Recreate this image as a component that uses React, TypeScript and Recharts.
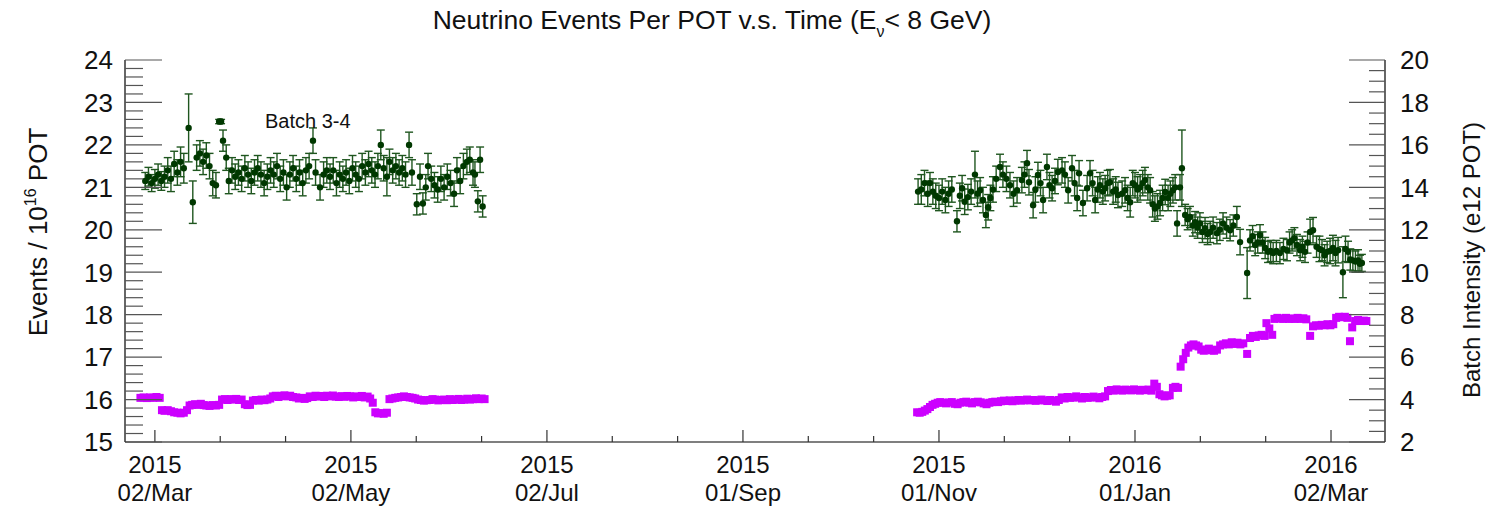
import React from "react";
import { ComposedChart, Scatter, ErrorBar, XAxis, YAxis } from "recharts";

const FONT = "'Liberation Sans', Arial, Helvetica, sans-serif";

// x values are days counted from 2015-03-02
const xMajorDays = [0, 61, 122, 183, 244, 305, 366];
const xYearLabels = ["2015", "2015", "2015", "2015", "2015", "2016", "2016"];
const xDayLabels = ["02/Mar", "02/May", "02/Jul", "01/Sep", "01/Nov", "01/Jan", "02/Mar"];
const xDomain: [number, number] = [-9.3, 382.8];

const leftMajor = [15, 16, 17, 18, 19, 20, 21, 22, 23, 24];
const rightMajor = [2, 4, 6, 8, 10, 12, 14, 16, 18, 20];

// [day, events / 1e16 POT, error]
const greenSpring: [number, number, number][] = [
  [-3, 21.15, 0.2], [-2, 21.25, 0.22], [-1, 21.1, 0.2], [0, 21.2, 0.22], [1, 21.3, 0.25],
  [2, 21.15, 0.22], [3, 21.25, 0.25], [4, 21.4, 0.3], [5, 21.2, 0.3], [6, 21.55, 0.3],
  [7, 21.35, 0.3], [8, 21.6, 0.35], [9, 21.45, 0.35], [10.5, 22.4, 0.8], [11.8, 20.65, 0.5],
  [13, 21.7, 0.3], [14, 21.8, 0.3], [15, 21.6, 0.3], [16, 21.75, 0.3], [17, 21.5, 0.3],
  [18, 21.1, 0.3], [19, 21.05, 0.3], [20, 22.55, 0.05], [20.6, 22.55, 0.05], [21.2, 22.1, 0.25],
  [22.2, 21.7, 0.3], [23, 21.15, 0.3], [24, 21.4, 0.3], [25, 21.25, 0.3], [26, 21.35, 0.3],
  [27, 21.2, 0.3], [28, 21.45, 0.3], [29, 21.3, 0.3], [30, 21.15, 0.3], [31, 21.35, 0.3],
  [32, 21.45, 0.3], [33, 21.3, 0.3], [34, 21.1, 0.3], [35, 21.25, 0.3], [36, 21.4, 0.3],
  [37, 21.3, 0.3], [38, 21.5, 0.3], [39, 21.2, 0.3], [40, 21.35, 0.3], [41, 21.0, 0.3],
  [42, 21.3, 0.3], [43, 21.45, 0.3], [44, 21.2, 0.3], [45, 21.35, 0.3], [46, 21.1, 0.3],
  [47, 21.4, 0.3], [48, 21.5, 0.3], [49.2, 22.1, 0.3], [50, 21.35, 0.3], [51.4, 21.0, 0.3],
  [52.5, 21.3, 0.3], [53.5, 21.4, 0.3], [54.5, 21.25, 0.3], [55.5, 21.4, 0.3], [56.5, 21.1, 0.3],
  [57.5, 21.3, 0.3], [58.5, 21.2, 0.3], [59.5, 21.35, 0.3], [60.5, 21.15, 0.3], [61.5, 21.45, 0.3],
  [62.5, 21.3, 0.3], [63.5, 21.2, 0.3], [64.5, 21.5, 0.3], [65.5, 21.35, 0.3], [66.5, 21.55, 0.3],
  [67.5, 21.4, 0.3], [68.5, 21.3, 0.3], [69.4, 21.5, 0.3], [70.3, 22.0, 0.35], [71.2, 21.45, 0.3],
  [72.2, 21.25, 0.45], [73, 21.6, 0.3], [74, 21.4, 0.3], [75, 21.5, 0.3], [76, 21.35, 0.3],
  [77, 21.45, 0.3], [78, 21.3, 0.3], [79.1, 22.0, 0.3], [80, 21.35, 0.3], [81.5, 20.6, 0.25],
  [82.5, 21.25, 0.3], [83.4, 20.62, 0.25], [84.3, 21.0, 0.3], [85, 21.5, 0.3], [86, 21.2, 0.3],
  [87, 21.05, 0.3], [88, 20.95, 0.3], [89, 21.2, 0.3], [90, 21.0, 0.3], [91, 21.25, 0.3],
  [92, 21.1, 0.3], [93.1, 20.85, 0.3], [94, 21.4, 0.3], [95, 21.15, 0.3], [96, 21.5, 0.3],
  [97.1, 21.6, 0.3], [98, 21.65, 0.3], [99, 21.35, 0.3], [99.6, 21.3, 0.3], [100.5, 20.67, 0.25],
  [101.2, 21.65, 0.3], [102, 20.55, 0.25],
];

const greenWinter: [number, number, number][] = [
  [237.5, 20.9, 0.3], [238.5, 20.95, 0.35], [239.5, 21.1, 0.3], [240.5, 20.85, 0.3], [241.2, 21.1, 0.25],
  [242.1, 20.9, 0.3], [243, 20.8, 0.3], [244, 20.75, 0.3], [245, 20.9, 0.3], [246, 20.7, 0.3],
  [247, 20.85, 0.3], [248, 20.95, 0.3], [249.6, 20.2, 0.25], [250.5, 20.8, 0.3], [251.2, 20.98, 0.3],
  [252, 20.66, 0.3], [253, 20.77, 0.3], [254, 20.9, 0.3], [255.2, 21.3, 0.55], [256, 20.85, 0.3],
  [256.8, 20.93, 0.3], [257.7, 20.7, 0.3], [258.6, 20.35, 0.3], [259.3, 20.53, 0.3], [260, 20.75, 0.3],
  [260.8, 20.95, 0.3], [261.8, 21.2, 0.3], [263, 21.48, 0.3], [263.9, 21.3, 0.3], [265, 21.2, 0.3],
  [266.1, 21.05, 0.3], [267.2, 20.85, 0.3], [268.3, 20.93, 0.3], [269.8, 21.17, 0.3], [270.6, 21.3, 0.3],
  [271.4, 21.57, 0.3], [272, 21.12, 0.3], [273.3, 20.58, 0.3], [274, 20.95, 0.3], [274.8, 21.29, 0.3],
  [275.6, 21.1, 0.3], [276.4, 20.7, 0.3], [277.6, 21.48, 0.3], [278.4, 21.05, 0.3], [279.2, 20.98, 0.3],
  [280.1, 21.15, 0.3], [281, 21.36, 0.3], [282.3, 21.4, 0.3], [283.2, 21.3, 0.3], [284.2, 20.93, 0.3],
  [285.4, 21.45, 0.3], [286.2, 21.1, 0.3], [287, 20.75, 0.3], [287.6, 21.33, 0.3], [288.8, 20.63, 0.3],
  [290.1, 20.98, 0.3], [291, 21.33, 0.3], [291.8, 21.1, 0.3], [292.6, 20.7, 0.3], [293.4, 20.95, 0.3],
  [294.1, 21.05, 0.3], [295, 20.9, 0.3], [295.7, 20.98, 0.3], [296.5, 21.1, 0.3], [297.2, 21.12, 0.3],
  [298.2, 20.9, 0.3], [299, 20.95, 0.3], [299.7, 20.82, 0.3], [301, 20.85, 0.3], [301.9, 20.93, 0.3],
  [302.7, 20.75, 0.3], [303.5, 20.65, 0.35], [304.3, 21.1, 0.3], [305, 21.05, 0.3], [305.8, 20.95, 0.3],
  [306.6, 21.0, 0.3], [307.4, 21.1, 0.3], [308.1, 21.17, 0.3], [309, 21.0, 0.3], [309.7, 20.93, 0.3],
  [310.5, 20.6, 0.3], [311.2, 20.5, 0.3], [312, 20.55, 0.3], [312.8, 20.63, 0.3], [313.6, 20.75, 0.3],
  [314.4, 20.89, 0.3], [315.3, 20.75, 0.3], [316, 20.85, 0.3], [316.8, 20.93, 0.3], [317.5, 21.0, 0.3],
  [318.1, 20.15, 0.3], [319, 21.0, 0.3], [319.6, 21.45, 0.9], [320.6, 20.35, 0.25], [321.4, 20.25, 0.25],
  [322.1, 20.3, 0.25], [323, 20.1, 0.25], [323.7, 20.18, 0.25], [324.5, 20.05, 0.25], [325.2, 20.15, 0.25],
  [326, 19.95, 0.25], [326.8, 20.04, 0.25], [327.6, 19.9, 0.25], [328.4, 19.95, 0.25], [329.3, 20.05, 0.25],
  [330.5, 19.92, 0.25], [331.4, 20.0, 0.25], [332.4, 20.15, 0.25], [333.5, 20.05, 0.25], [334.6, 19.99, 0.25],
  [335.6, 20.1, 0.25], [336.7, 20.3, 0.25], [337.7, 19.71, 0.3], [339.9, 18.98, 0.6], [340.8, 19.75, 0.25],
  [341.6, 19.85, 0.25], [342.4, 19.64, 0.25], [343.2, 19.7, 0.25], [343.9, 19.87, 0.25], [344.7, 19.7, 0.25],
  [345.5, 19.57, 0.25], [346.4, 19.48, 0.25], [347.2, 19.5, 0.25], [348, 19.45, 0.25], [349, 19.5, 0.25],
  [350.1, 19.45, 0.25], [351.2, 19.55, 0.25], [352.3, 19.52, 0.25], [353.1, 19.7, 0.25], [353.9, 19.75, 0.25],
  [354.6, 19.8, 0.25], [355.4, 19.64, 0.25], [356.4, 19.52, 0.25], [357.1, 19.6, 0.25], [357.9, 19.48, 0.25],
  [358.7, 19.7, 0.25], [359.5, 19.95, 0.3], [360.4, 19.99, 0.3], [361.5, 19.6, 0.25], [362.4, 19.55, 0.3],
  [363.2, 19.52, 0.25], [364, 19.4, 0.25], [364.8, 19.48, 0.25], [365.7, 19.5, 0.3], [366.6, 19.57, 0.3],
  [367.4, 19.45, 0.3], [368.2, 19.52, 0.3], [369.7, 19.0, 0.6], [370.5, 19.55, 0.3], [371.3, 19.48, 0.25],
  [372, 19.3, 0.25], [372.8, 19.28, 0.25], [373.6, 19.25, 0.25], [374.4, 19.28, 0.25], [375, 19.2, 0.2],
  [375.6, 19.22, 0.2],
];

// [day, batch intensity e12 POT]
const purpleSpring: [number, number][] = [
  [-4.5, 4.08], [-3.5, 4.1], [-2.5, 4.07], [-1.5, 4.1], [-0.5, 4.08], [0.5, 4.12], [1.5, 4.08],
  [2.2, 3.5], [3, 3.47], [4, 3.5], [5, 3.45], [6, 3.4], [7, 3.38], [8, 3.35], [9, 3.38], [10, 3.5],
  [10.8, 3.72], [11.6, 3.75], [12.5, 3.78], [13.4, 3.75], [14.3, 3.8], [15.2, 3.74], [16, 3.72],
  [17, 3.7], [18, 3.74], [19, 3.72], [20, 3.75],
  [20.9, 4.0], [21.8, 4.02], [22.6, 3.98], [23.5, 4.02], [24.4, 4.0], [25.3, 4.03], [26.2, 3.98], [27, 4.0],
  [28, 3.78], [28.8, 3.74], [29.6, 3.75],
  [30.5, 3.95], [31.4, 3.98], [32.3, 3.95], [33.2, 4.0], [34.1, 3.97], [35, 4.0], [35.9, 4.05],
  [36.7, 4.15], [37.6, 4.18], [38.5, 4.12], [39.4, 4.17], [40.3, 4.2], [41.2, 4.15], [42.1, 4.18],
  [43, 4.12], [44, 4.1],
  [44.8, 4.05], [45.7, 4.08], [46.6, 4.03], [47.4, 4.07],
  [48.2, 4.15], [49.1, 4.12], [50, 4.18], [50.9, 4.14], [51.8, 4.17], [52.7, 4.12], [53.6, 4.18],
  [54.5, 4.15], [55.4, 4.19], [56.3, 4.14], [57.2, 4.12], [58.1, 4.16], [59, 4.13], [59.9, 4.17],
  [60.8, 4.15], [61.7, 4.1], [62.6, 4.15], [63.5, 4.12], [64.4, 4.17], [65.3, 4.1], [66.2, 4.14], [67, 4.05],
  [67.8, 3.85], [68.6, 3.4], [69.4, 3.35], [70.3, 3.36], [71.2, 3.33], [72.2, 3.38],
  [73, 4.02], [73.9, 4.05], [74.8, 4.08], [75.7, 4.1], [76.6, 4.12], [77.5, 4.15], [78.4, 4.12],
  [79.3, 4.1], [80.2, 4.08],
  [81, 4.05], [81.9, 4.0], [82.8, 3.98], [83.7, 3.95], [84.6, 3.97], [85.5, 3.98], [86.4, 4.02],
  [87.3, 4.0], [88.2, 3.96], [89.1, 3.98], [90, 4.0], [90.9, 3.97], [91.8, 4.02], [92.7, 3.98],
  [93.6, 4.0], [94.5, 4.03], [95.4, 3.98], [96.3, 4.0], [97.2, 4.04], [98.1, 4.0], [99, 4.02],
  [99.9, 4.06], [100.8, 4.02], [101.7, 4.05], [102.6, 4.02],
];

const purpleWinter: [number, number][] = [
  [237.2, 3.4], [238, 3.38], [238.8, 3.42], [239.6, 3.48], [240.4, 3.55], [241.2, 3.65], [242, 3.75],
  [242.8, 3.8], [243.6, 3.85], [244.4, 3.88], [245.3, 3.85], [246.2, 3.82], [247.1, 3.86], [248, 3.88],
  [248.9, 3.8], [249.8, 3.78], [250.7, 3.85], [251.6, 3.88], [252.5, 3.9], [253.4, 3.85], [254.3, 3.82],
  [255.2, 3.88], [256.1, 3.9], [257, 3.87], [257.9, 3.82], [258.8, 3.78], [259.7, 3.85], [260.6, 3.88],
  [261.5, 3.9], [262.4, 3.88],
  [263.3, 3.92], [264.2, 3.95], [265.1, 3.93], [266, 3.96], [266.9, 3.92], [267.8, 3.95], [268.7, 3.98],
  [269.6, 3.95], [270.5, 3.97], [271.4, 4.0], [272.3, 3.96], [273.2, 3.98], [274.1, 3.94], [275, 3.97],
  [275.9, 4.0], [276.8, 3.96], [277.7, 3.93], [278.6, 3.98], [279.5, 3.95], [280.4, 3.9], [281.3, 3.98],
  [282.2, 4.1], [283.1, 4.05], [284, 4.12], [284.9, 4.08], [285.8, 4.1], [286.7, 4.15], [287.6, 4.1],
  [288.5, 4.05], [289.4, 4.12], [290.3, 4.08], [291.2, 4.1], [292.1, 4.14], [293, 4.1], [293.9, 4.06],
  [294.8, 4.12], [295.7, 4.15],
  [296.6, 4.4], [297.5, 4.45], [298.4, 4.42], [299.3, 4.48], [300.2, 4.45], [301.1, 4.42], [302, 4.47],
  [302.9, 4.45], [303.8, 4.43], [304.7, 4.48], [305.6, 4.45], [306.5, 4.42], [307.4, 4.46], [308.3, 4.44],
  [309.2, 4.47], [310.1, 4.42],
  [311, 4.75], [311.8, 4.6], [312.6, 4.25], [313.4, 4.2], [314.2, 4.15], [315, 4.18], [315.8, 4.2],
  [316.8, 4.55], [317.6, 4.6], [318.4, 4.55],
  [319.2, 5.55], [320, 5.9], [320.8, 6.2], [321.6, 6.45], [322.4, 6.55], [323.2, 6.6], [324, 6.55],
  [324.8, 6.5], [325.6, 6.35], [326.4, 6.3], [327.2, 6.35], [328, 6.4], [328.8, 6.32], [329.6, 6.3],
  [330.5, 6.35], [331.5, 6.55], [332.4, 6.6], [333.3, 6.65], [334.2, 6.6], [335.1, 6.7], [336, 6.62],
  [336.9, 6.68], [337.8, 6.6], [338.7, 6.65],
  [339.9, 6.15], [340.8, 6.9], [341.7, 7.0], [342.6, 6.95], [343.5, 7.02], [344.4, 7.05], [345.3, 7.0],
  [345.9, 7.6], [346.8, 7.35], [347.7, 7.05],
  [348.4, 7.8], [349.3, 7.85], [350.2, 7.82], [351.1, 7.8], [352, 7.85], [352.9, 7.8], [353.8, 7.82],
  [354.7, 7.8], [355.6, 7.85], [356.5, 7.8], [357.4, 7.83], [358.3, 7.78],
  [359.5, 7.0], [360.4, 7.45], [361.3, 7.5], [362.2, 7.48], [363.1, 7.52], [364, 7.5], [364.9, 7.55],
  [365.8, 7.5], [366.7, 7.55],
  [367.6, 7.85], [368.5, 7.9], [369.4, 7.88], [370.3, 7.9], [371.1, 7.85],
  [371.9, 6.75], [372.6, 7.4], [373.5, 7.7], [374.4, 7.75], [375.3, 7.7], [376.2, 7.72], [377, 7.7],
];

const toPoints = (rows: [number, number, number][]) => rows.map(([x, y, err]) => ({ x, y, err }));
const toSquares = (rows: [number, number][]) => rows.map(([x, y]) => ({ x, y }));

// tick positions (major + minor)
const step = (a: number, b: number, d: number) => {
  const out: number[] = [];
  for (let v = a; v <= b + 1e-9; v += d) out.push(Math.round(v * 1000) / 1000);
  return out;
};
const leftTicks = step(15, 24, 0.2);
const rightTicks = step(2, 20, 0.5);
const xTicks = step(0, 366, 61 / 3).filter((d) => d >= xDomain[0] && d <= xDomain[1]);

const isMajor = (v: number, list: number[]) => list.some((m) => Math.abs(m - v) < 1e-3);

const LeftTick = (p: any) => {
  const ax = p.x + 12;
  const v = p.payload.value;
  const major = isMajor(v, leftMajor);
  return (
    <g>
      <line x1={ax} x2={ax + (major ? 37 : 18)} y1={p.y} y2={p.y} stroke="#555" strokeWidth={1.2} />
      {major && (
        <text x={p.x} y={p.y} dy="0.36em" textAnchor="end" fontSize={26} fontFamily={FONT} fill="#111">
          {v}
        </text>
      )}
    </g>
  );
};

const RightTick = (p: any) => {
  const ax = p.x - 15;
  const v = p.payload.value;
  const major = isMajor(v, rightMajor);
  return (
    <g>
      <line x1={ax} x2={ax - (major ? 36 : 16)} y1={p.y} y2={p.y} stroke="#555" strokeWidth={1.2} />
      {major && (
        <text x={p.x} y={p.y} dy="0.36em" textAnchor="start" fontSize={26} fontFamily={FONT} fill="#111">
          {v}
        </text>
      )}
    </g>
  );
};

const BottomTick = (p: any) => {
  const ay = p.y;
  const v = p.payload.value;
  const idx = xMajorDays.findIndex((m) => Math.abs(m - v) < 1e-3);
  const major = idx >= 0;
  return (
    <g>
      <line x1={p.x} x2={p.x} y1={ay} y2={ay - (major ? 12 : 6)} stroke="#333" strokeWidth={1.2} />
      {major && (
        <text x={p.x} y={ay + 31} textAnchor="middle" fontSize={24} fontFamily={FONT} fill="#111">
          {xYearLabels[idx]}
        </text>
      )}
      {major && (
        <text x={p.x} y={ay + 59} textAnchor="middle" fontSize={24} fontFamily={FONT} fill="#111">
          {xDayLabels[idx]}
        </text>
      )}
    </g>
  );
};

const GreenDot = (p: any) => <circle cx={p.cx} cy={p.cy} r={3.2} fill="#003800" />;
const PurpleSquare = (p: any) => (
  <rect x={p.cx - 4} y={p.cy - 4} width={8} height={8} fill="#cc00ff" />
);

export default function App() {
  return (
    <div style={{ position: "absolute", left: 0, top: 0, width: 1491, height: 507, background: "#fff" }}>
      <ComposedChart width={1491} height={507} margin={{ top: 60, right: 46, bottom: 5, left: 65 }}>
        <XAxis
          xAxisId="t"
          type="number"
          dataKey="x"
          domain={xDomain}
          allowDataOverflow
          ticks={xTicks}
          interval={0}
          tickSize={0}
          tickMargin={0}
          tickLine={false}
          tick={<BottomTick />}
          height={60}
          axisLine={{ stroke: "#000", strokeWidth: 1.2 }}
        />
        <YAxis
          yAxisId="L"
          type="number"
          dataKey="y"
          domain={[15, 24]}
          allowDataOverflow
          ticks={leftTicks}
          interval={0}
          tickSize={0}
          tickMargin={12}
          tickLine={false}
          tick={<LeftTick />}
          width={60}
          axisLine={{ stroke: "#000", strokeWidth: 1.2 }}
        />
        <YAxis
          yAxisId="R"
          orientation="right"
          type="number"
          dataKey="y"
          domain={[2, 20]}
          allowDataOverflow
          ticks={rightTicks}
          interval={0}
          tickSize={0}
          tickMargin={15}
          tickLine={false}
          tick={<RightTick />}
          width={60}
          axisLine={{ stroke: "#000", strokeWidth: 1.2 }}
        />
        <Scatter xAxisId="t" yAxisId="R" data={toSquares(purpleSpring)} shape={PurpleSquare} isAnimationActive={false} />
        <Scatter xAxisId="t" yAxisId="R" data={toSquares(purpleWinter)} shape={PurpleSquare} isAnimationActive={false} />
        <Scatter xAxisId="t" yAxisId="L" data={toPoints(greenSpring)} shape={GreenDot} isAnimationActive={false}>
          <ErrorBar dataKey="err" direction="y" width={4} stroke="#1f561f" strokeWidth={1.4} isAnimationActive={false} />
        </Scatter>
        <Scatter xAxisId="t" yAxisId="L" data={toPoints(greenWinter)} shape={GreenDot} isAnimationActive={false}>
          <ErrorBar dataKey="err" direction="y" width={4} stroke="#1f561f" strokeWidth={1.4} isAnimationActive={false} />
        </Scatter>
      </ComposedChart>
      <svg
        width={1491}
        height={507}
        style={{ position: "absolute", left: 0, top: 0, pointerEvents: "none" }}
        fontFamily={FONT}
        fill="#111"
      >
        <text x={712} y={29} textAnchor="middle" fontSize={26.5}>
          Neutrino Events Per POT v.s. Time (E
          <tspan fontSize={16} dy={8}>ν</tspan>
          <tspan fontSize={26.5} dy={-8}>{"< 8 GeV)"}</tspan>
        </text>
        <text transform="translate(47,232) rotate(-90)" textAnchor="middle" fontSize={26}>
          Events / 10
          <tspan fontSize={16} dy={-11}>16</tspan>
          <tspan dy={11}>{" POT"}</tspan>
        </text>
        <text transform="translate(1480,260) rotate(-90)" textAnchor="middle" fontSize={24}>
          Batch Intensity (e12 POT)
        </text>
        <text x={265} y={128} fontSize={20}>Batch 3-4</text>
      </svg>
    </div>
  );
}
